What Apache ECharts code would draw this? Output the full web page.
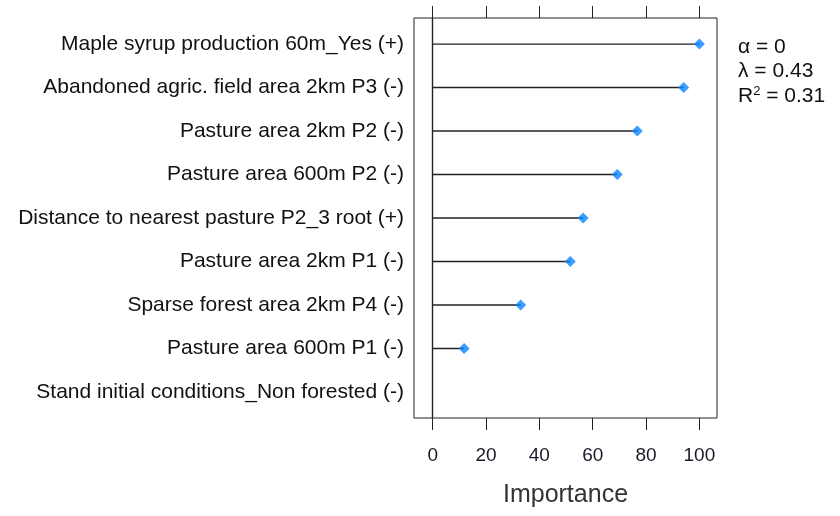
<!DOCTYPE html>
<html lang="en">
<head>
  <meta charset="UTF-8">
  <title>Importance</title>
  <style>
    html, body { margin: 0; padding: 0; background: #fff; }
    #chart { width: 840px; height: 516px; }
  </style>
</head>
<body>
  <div id="chart"></div>
<script src="https://cdn.jsdelivr.net/npm/echarts@6/dist/echarts.min.js"></script>
<script>
  // variables, top to bottom
  let variables = [
    'Maple syrup production 60m_Yes (+)',
    'Abandoned agric. field area 2km P3 (-)',
    'Pasture area 2km P2 (-)',
    'Pasture area 600m P2 (-)',
    'Distance to nearest pasture P2_3 root (+)',
    'Pasture area 2km P1 (-)',
    'Sparse forest area 2km P4 (-)',
    'Pasture area 600m P1 (-)',
    'Stand initial conditions_Non forested (-)'
  ]
  let importance = [100, 94.1, 76.7, 69.2, 56.4, 51.6, 33.0, 11.8, 0]
  let xTicks = [0, 20, 40, 60, 80, 100]
  let statLines = ['α = 0', 'λ = 0.43', 'R{sup|2} = 0.31']

  let rows = variables.map((v, i) => i + 1)
  let points = importance.map((v, i) => [v, i + 1])

  let chart = echarts.init(document.getElementById('chart'))
  let font = 'Liberation Sans, Arial, sans-serif'

  chart.setOption({
    animation: false,
    grid: {
      left: 414, right: 123, top: 18, bottom: 98,
      show: true, borderColor: '#222', borderWidth: 1
    },
    xAxis: [
      {
        type: 'value', position: 'bottom', min: -7, max: 106.6,
        splitLine: { show: false },
        axisLine: { show: false },
        axisTick: { show: true, length: 12, customValues: xTicks, lineStyle: { color: '#222' } },
        axisLabel: {
          customValues: xTicks, margin: 28, fontSize: 19, color: '#1a1a2a',
          fontFamily: font
        },
        name: 'Importance', nameLocation: 'middle', nameGap: 65,
        nameTextStyle: { fontSize: 25, color: '#333', fontFamily: font }
      },
      {
        type: 'value', position: 'top', min: -7, max: 106.6,
        splitLine: { show: false },
        axisLine: { show: false },
        axisTick: { show: true, length: 12, customValues: xTicks, lineStyle: { color: '#222' } },
        axisLabel: { show: false }
      }
    ],
    yAxis: {
      type: 'value', inverse: true, min: 0.4, max: 9.6,
      splitLine: { show: false },
      axisLine: { show: false },
      axisTick: { show: false },
      axisLabel: {
        customValues: rows, margin: 10, fontSize: 21, color: '#111', fontFamily: font,
        formatter: v => variables[Math.round(v) - 1] || ''
      }
    },
    series: [
      {
        type: 'custom',
        data: points,
        renderItem: (params, api) => {
          let start = api.coord([0, api.value(1)])
          let end = api.coord([api.value(0), api.value(1)])
          return {
            type: 'line',
            shape: { x1: start[0], y1: start[1], x2: end[0], y2: end[1] },
            style: { stroke: '#222', lineWidth: 1.4 }
          }
        },
        markLine: {
          silent: true, symbol: 'none', label: { show: false },
          lineStyle: { color: '#222', width: 1.4, type: 'solid' },
          data: [{ xAxisIndex: 0, xAxis: 0 }]
        },
        z: 2
      },
      {
        type: 'scatter',
        data: points.filter(p => p[0] > 0),
        symbol: 'diamond',
        symbolSize: 11,
        itemStyle: { color: '#0a84ff' },
        z: 3
      }
    ],
    graphic: statLines.map((t, i) => ({
      type: 'text',
      left: 738,
      top: 37 + i * 24,
      style: {
        text: t,
        fontSize: 21, fill: '#111', fontFamily: font,
        rich: { sup: { fontSize: 13, verticalAlign: 'top', padding: [0, 0, 9, 0], fill: '#111', fontFamily: font } }
      }
    }))
  })
</script>
</body>
</html>
